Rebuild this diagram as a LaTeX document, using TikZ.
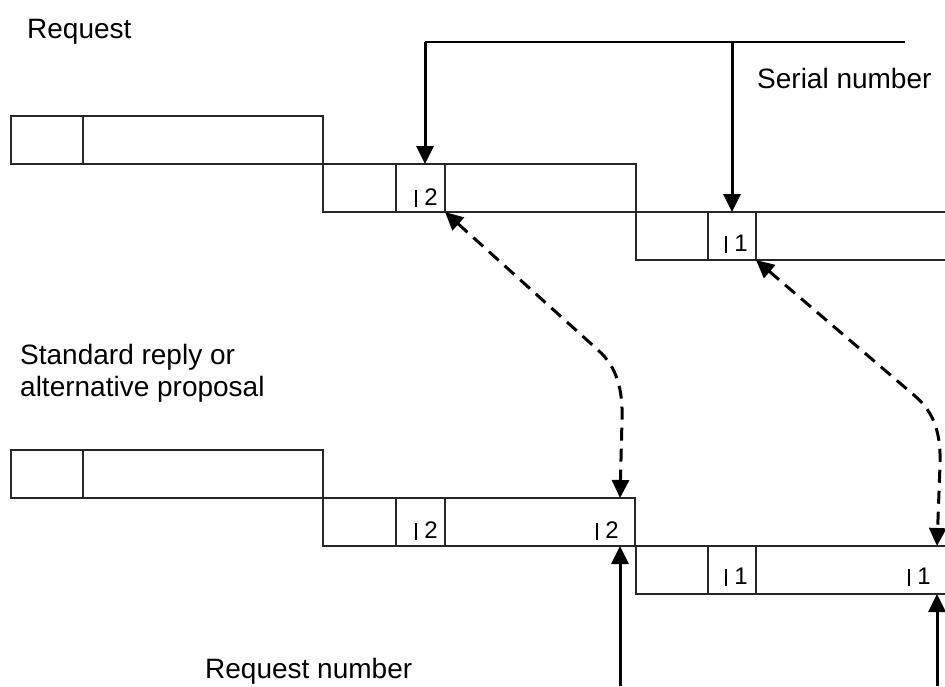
\documentclass[tikz,border=0pt]{standalone}
\usepackage{fontspec}
\setmainfont{Liberation Sans}
\usetikzlibrary{arrows.meta,calc}
\newcommand\vbmark{\rule[-0.1em]{0.08em}{0.72em}\hspace{0.3em}}
\begin{document}
\begin{tikzpicture}[x=1pt,y=-1pt,
 cell/.style={draw=black!85,line width=2pt,minimum height=48pt,inner sep=0pt,outer sep=0pt,anchor=north west},
 lab/.style={font=\fontsize{28}{33}\selectfont,inner sep=0pt,anchor=base west},
 num/.style={font=\fontsize{24}{28}\selectfont,inner sep=0pt,anchor=base east},
 arr/.style={line width=3pt,-{Triangle[length=18pt,width=17pt]}},
 darr/.style={line width=3pt,dash pattern=on 13pt off 8pt,{Triangle[length=18pt,width=17pt]}-{Triangle[length=18pt,width=17pt]}},
 brk/.style={line width=2.4pt}]
\useasboundingbox (0,0) rectangle (945,686);
% top group (Request)
\node[cell,minimum width=72pt] (ta1) at (11,116) {};
\node[cell,minimum width=240pt] (ta2) at (83,116) {};
\node[cell,minimum width=73pt] (tb1) at (323,164) {};
\node[cell,minimum width=49pt] (tb2) at (396,164) {};
\node[cell,minimum width=191pt] (tb3) at (445,164) {};
\node[cell,minimum width=72pt] (tc1) at (636,212) {};
\node[cell,minimum width=48pt] (tc2) at (708,212) {};
\node[cell,minimum width=240pt] (tc3) at (756,212) {};
% bottom group (reply)
\node[cell,minimum width=72pt] (ba1) at (11,450) {};
\node[cell,minimum width=240pt] (ba2) at (83,450) {};
\node[cell,minimum width=73pt] (bb1) at (323,498) {};
\node[cell,minimum width=49pt] (bb2) at (396,498) {};
\node[cell,minimum width=190pt] (bb3) at (445,498) {};
\node[cell,minimum width=72pt] (bc1) at (636,546) {};
\node[cell,minimum width=48pt] (bc2) at (708,546) {};
\node[cell,minimum width=240pt] (bc3) at (756,546) {};
% numbers
\node[num] (n1) at (438,205) {\vbmark 2};
\node[num] (n2) at (748,251) {\vbmark 1};
\node[num] (n3) at (438,538) {\vbmark 2};
\node[num] (n4) at (619,538) {\vbmark 2};
\node[num] (n5) at (748,584) {\vbmark 1};
\node[num] (n6) at (931,584) {\vbmark 1};
% texts
\node[lab] (req) at (27,38) {Request};
\node[lab] (ser) at (757,88) {Serial number};
\node[lab] (std1) at (20,364) {Standard reply or};
\node[lab] (std2) at (20,396) {alternative proposal};
\node[lab] (rqn) at (205,678) {Request number};
% serial number bracket
\coordinate (s0) at (425,42);
\coordinate (s1) at (732,42);
\coordinate (s2) at (905,42);
\draw[brk] (s0) -- (s2);
\draw[arr] (s0) -- (s0 |- tb2.north);
\draw[arr] (s1) -- (s1 |- tc2.north);
% request number arrows
\coordinate (r0) at (620,686);
\coordinate (r1) at (937,686);
\draw[arr] (r0) -- (r0 |- bb3.south);
\draw[arr] (r1) -- (r1 |- bc3.south);
% dashed links
\coordinate (d1a) at (598,350);
\coordinate (d1b) at (622,420);
\coordinate (d1e) at ($(bb3.north east)+(-15,0)$);
\draw[darr] (tb2.south east) -- (d1a) .. controls (617,367) and (623,390) .. (d1b) -- (d1e);
\coordinate (d2a) at (915,396);
\coordinate (d2b) at (940,465);
\coordinate (d2e) at ($(bc3.north west)+(181,0)$);
\draw[darr] (tc2.south east) -- (d2a) .. controls (935,413) and (941,435) .. (d2b) -- (d2e);
\end{tikzpicture}
\end{document}
